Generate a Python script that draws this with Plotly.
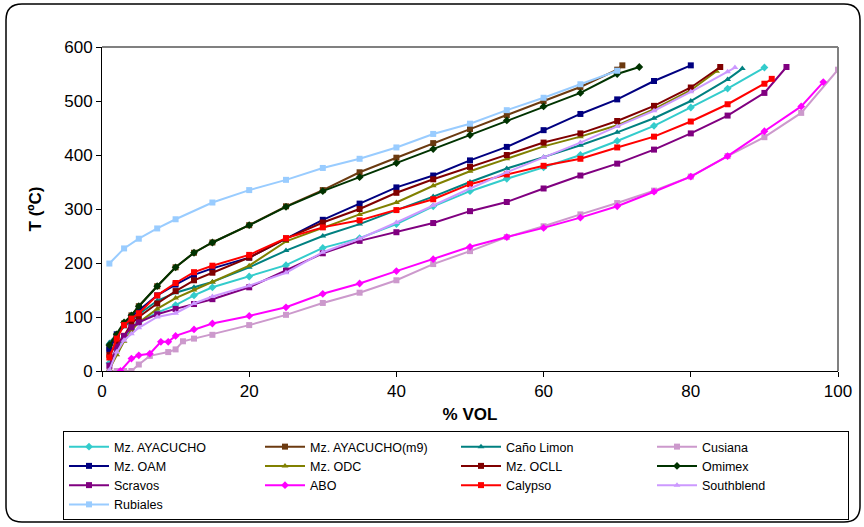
import plotly.graph_objects as go

# ---------------- data ----------------
ayacucho_x = [1, 2, 3, 4, 5, 7.5, 10, 12.5, 15, 20, 25, 30, 35, 40, 45, 50, 55, 60, 65, 70, 75, 80, 85, 90]
ayacucho_y = [15, 40, 62, 78, 90, 108, 122, 140, 155, 175, 196, 228, 246, 272, 305, 333, 356, 377, 400, 426, 454, 488, 523, 562]

m9_x = [1, 2, 3, 4, 5, 7.5, 10, 12.5, 15, 20, 25, 30, 35, 40, 45, 50, 55, 60, 65, 70, 70.7]
m9_y = [42, 65, 88, 103, 120, 157, 192, 219, 238, 270, 305, 335, 368, 395, 422, 448, 474, 500, 526, 558, 566]

cano_x = [1, 2, 3, 4, 5, 7.5, 10, 12.5, 15, 20, 25, 30, 35, 40, 45, 50, 55, 60, 65, 70, 75, 80, 85, 87]
cano_y = [53, 68, 82, 94, 105, 130, 145, 155, 165, 192, 223, 250, 272, 298, 323, 350, 375, 396, 418, 442, 468, 500, 540, 560]

cusiana_x = [1, 2, 3, 4, 5, 6.5, 9, 10, 11, 12.5, 15, 20, 25, 30, 35, 40, 45, 50, 55, 60, 65, 70, 75, 80, 85, 90, 95, 100]
cusiana_y = [0, 0, 0, 0, 12, 28, 35, 40, 55, 60, 67, 85, 104, 126, 145, 168, 198, 222, 248, 268, 290, 311, 334, 360, 398, 433, 478, 558]

oam_x = [1, 2, 3, 4, 5, 7.5, 10, 12.5, 15, 20, 25, 30, 35, 40, 45, 50, 55, 60, 65, 70, 75, 80]
oam_y = [40, 68, 85, 100, 112, 140, 160, 178, 190, 210, 245, 280, 310, 340, 362, 390, 415, 446, 476, 503, 537, 566]

odc_x = [1, 2, 3, 4, 5, 7.5, 10, 12.5, 15, 20, 25, 30, 35, 40, 45, 50, 55, 60, 65, 70, 75, 80, 83.5]
odc_y = [3, 30, 55, 75, 90, 115, 135, 150, 165, 195, 240, 265, 290, 312, 343, 370, 393, 416, 434, 455, 485, 520, 555]

ocll_x = [1, 2, 3, 4, 5, 7.5, 10, 12.5, 15, 20, 25, 30, 35, 40, 45, 50, 55, 60, 65, 70, 75, 80, 84]
ocll_y = [30, 50, 65, 88, 100, 125, 148, 168, 182, 210, 245, 275, 300, 330, 355, 378, 400, 423, 440, 463, 491, 525, 563]

omimex_x = [1, 2, 3, 4, 5, 7.5, 10, 12.5, 15, 20, 25, 30, 35, 40, 45, 50, 55, 60, 65, 70, 73]
omimex_y = [48, 68, 90, 103, 120, 157, 192, 219, 238, 270, 304, 333, 359, 385, 411, 437, 464, 490, 515, 550, 563]

scravos_x = [1, 2, 3, 4, 5, 7.5, 10, 12.5, 15, 20, 25, 30, 35, 40, 45, 50, 55, 60, 65, 70, 75, 80, 85, 90, 93]
scravos_y = [10, 45, 65, 81, 90, 105, 115, 124, 133, 155, 186, 218, 241, 257, 274, 296, 313, 338, 362, 384, 410, 440, 473, 515, 563]

abo_x = [2.5, 4, 5, 6.5, 8, 9, 10, 12.5, 15, 20, 25, 30, 35, 40, 45, 50, 55, 60, 65, 70, 75, 80, 85, 90, 95, 98]
abo_y = [0, 23, 29, 32, 54, 54, 65, 77, 88, 102, 118, 143, 162, 185, 207, 230, 248, 265, 284, 305, 332, 360, 398, 444, 490, 535]

calypso_x = [1, 2, 3, 4, 5, 7.5, 10, 12.5, 15, 20, 25, 30, 35, 40, 45, 50, 55, 60, 65, 70, 75, 80, 85, 90, 91]
calypso_y = [25, 60, 85, 97, 107, 140, 163, 183, 195, 215, 246, 266, 279, 298, 318, 346, 364, 380, 393, 414, 434, 462, 494, 532, 541]

southblend_x = [1, 2, 3, 4, 5, 7.5, 10, 12.5, 15, 20, 25, 30, 35, 40, 45, 50, 55, 60, 65, 70, 75, 80, 85, 86]
southblend_y = [2, 35, 57, 69, 80, 100, 107, 125, 138, 158, 182, 220, 245, 275, 307, 338, 368, 396, 423, 453, 482, 517, 554, 562]

rubiales_x = [1, 3, 5, 7.5, 10, 15, 20, 25, 30, 35, 40, 45, 50, 55, 60, 65, 70]
rubiales_y = [199, 227, 245, 264, 281, 312, 335, 354, 376, 393, 414, 439, 458, 483, 506, 531, 556]

series_names = ["Mz. AYACUCHO", "Mz. AYACUCHO(m9)", "Caño Limon", "Cusiana",
                "Mz. OAM", "Mz. ODC", "Mz. OCLL", "Omimex",
                "Scravos", "ABO", "Calypso", "Southblend", "Rubiales"]
series_x = [ayacucho_x, m9_x, cano_x, cusiana_x, oam_x, odc_x, ocll_x, omimex_x,
            scravos_x, abo_x, calypso_x, southblend_x, rubiales_x]
series_y = [ayacucho_y, m9_y, cano_y, cusiana_y, oam_y, odc_y, ocll_y, omimex_y,
            scravos_y, abo_y, calypso_y, southblend_y, rubiales_y]
colors = ["#33CCCC", "#6B3A10", "#008080", "#CC99CC",
          "#000080", "#808000", "#800000", "#003300",
          "#800080", "#FF00FF", "#FF0000", "#CC99FF", "#99CCFF"]
symbols = ["diamond", "square", "triangle-up", "square",
           "square", "triangle-up", "square", "diamond",
           "square", "diamond", "square", "triangle-up", "square"]

x_ticks = [0, 20, 40, 60, 80, 100]
y_ticks = [0, 100, 200, 300, 400, 500, 600]

# ---------------- figure ----------------
W, H = 864, 527
L, R, T, B = 102, 26, 47, 156
pw, ph = W - L - R, H - T - B

fig = go.Figure()
for name, xs, ys, c, s in zip(series_names, series_x, series_y, colors, symbols):
    fig.add_trace(go.Scatter(
        x=xs, y=ys, name=name, mode="lines+markers",
        line=dict(color=c, width=2),
        marker=dict(symbol=s, size=6, color=c),
    ))

def px2paper(px, py):
    return (px - L) / pw, (H - B - py) / ph

# rounded outer frame
x0, y0, x1, y1, r = 6, 4, 860, 522, 16
def P(px, py):
    a, b = px2paper(px, py)
    return f"{a:.5f},{b:.5f}"
path = (f"M {P(x0 + r, y0)} L {P(x1 - r, y0)} Q {P(x1, y0)} {P(x1, y0 + r)} "
        f"L {P(x1, y1 - r)} Q {P(x1, y1)} {P(x1 - r, y1)} "
        f"L {P(x0 + r, y1)} Q {P(x0, y1)} {P(x0, y1 - r)} "
        f"L {P(x0, y0 + r)} Q {P(x0, y0)} {P(x0 + r, y0)} Z")
fig.add_shape(type="path", path=path, xref="paper", yref="paper",
              line=dict(color="black", width=1.5), layer="below")
# grey top and right borders of the plot area
fig.add_shape(type="line", xref="paper", yref="paper", x0=0, y0=1, x1=1, y1=1,
              line=dict(color="#808080", width=2))
fig.add_shape(type="line", xref="paper", yref="paper", x0=1, y0=0, x1=1, y1=1,
              line=dict(color="#808080", width=2))

font_family = "Liberation Sans, Arial, sans-serif"
fig.update_layout(
    width=W, height=H,
    margin=dict(l=L, r=R, t=T, b=B, autoexpand=False),
    paper_bgcolor="white", plot_bgcolor="white",
    font=dict(family=font_family, color="black", size=17),
    showlegend=True,
    legend=dict(
        orientation="h", x=px2paper(63, 0)[0], xanchor="left",
        y=px2paper(0, 431)[1], yanchor="top",
        entrywidth=141, entrywidthmode="pixels",
        font=dict(size=12.5, family=font_family),
        bordercolor="black", borderwidth=1, bgcolor="white",
        itemwidth=40, tracegroupgap=0,
    ),
    xaxis=dict(
        range=[0, 100], tickvals=x_ticks, showgrid=False, zeroline=False,
        showline=True, linecolor="black", linewidth=1,
        ticks="outside", ticklen=5, tickcolor="black",
        tickfont=dict(size=17),
        title=dict(text="<b>% VOL</b>", font=dict(size=17), standoff=7),
    ),
    yaxis=dict(
        range=[0, 600], tickvals=y_ticks, showgrid=False, zeroline=False,
        showline=True, linecolor="black", linewidth=1,
        ticks="outside", ticklen=5, tickcolor="black",
        tickfont=dict(size=17),
        title=dict(text="<b>T (ºC)</b>", font=dict(size=17), standoff=18),
    ),
)

fig.write_html("out.html", config={"displayModeBar": False},
               post_script="document.body.style.margin='0';")
